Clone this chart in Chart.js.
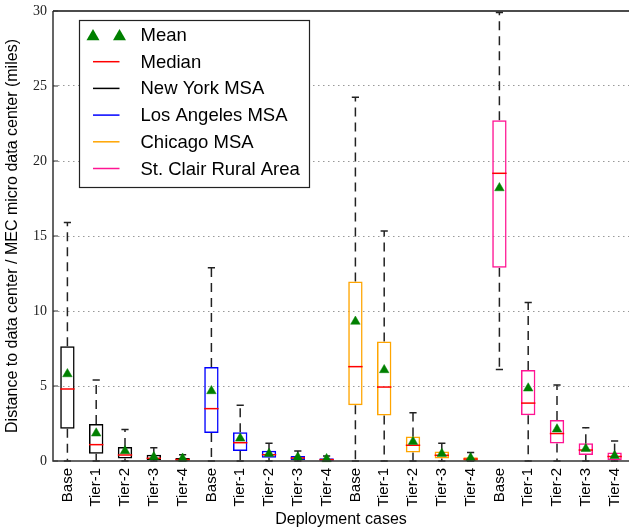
<!DOCTYPE html>
<html><head><meta charset="utf-8">
<script src="https://cdn.jsdelivr.net/npm/chart.js@4.4.1/dist/chart.umd.min.js"></script>
<style>
html,body{margin:0;padding:0;background:#fff;overflow:hidden;width:633px;height:531px}
#wrap{position:relative;width:635px;height:531px}
</style></head>
<body><div id="wrap"><canvas id="c" width="635" height="531"></canvas></div>
<script>
// ---- data ----
const categories = ['Base','Tier-1','Tier-2','Tier-3','Tier-4',
                    'Base','Tier-1','Tier-2','Tier-3','Tier-4',
                    'Base','Tier-1','Tier-2','Tier-3','Tier-4',
                    'Base','Tier-1','Tier-2','Tier-3','Tier-4'];
const groups = ['New York MSA','Los Angeles MSA','Chicago MSA','St. Clair Rural Area'];
const whiskerLow  = [0,0,0,0,0,  0,0,0,0,0,  0,0,0,0,0,  6.1,0,0,0,0];
const q1          = [2.15,0.49,0.16,0.07,0.02,  1.87,0.67,0.22,0.07,0.02,  3.72,3.03,0.56,0.16,0.02,  12.89,3.05,1.16,0.40,0.05];
const median      = [4.80,1.09,0.40,0.18,0.10,  3.49,1.22,0.42,0.20,0.09,  6.29,4.93,1.05,0.38,0.13,  19.18,3.86,1.83,0.73,0.30];
const q3          = [7.65,2.47,0.93,0.42,0.20,  6.27,1.92,0.69,0.33,0.18,  11.96,7.96,1.63,0.63,0.25,  22.71,6.07,2.73,1.18,0.56];
const whiskerHigh = [15.9,5.4,2.1,0.89,0.42,  12.88,3.72,1.18,0.67,0.33,  24.25,15.33,3.22,1.18,0.56,  29.9,10.56,5.06,2.22,1.33];
const mean        = [5.8,1.85,0.67,0.27,0.17,  4.67,1.51,0.49,0.25,0.14,  9.3,6.07,1.29,0.49,0.2,  18.2,4.85,2.12,0.82,0.35];
const yTicks = [0,5,10,15,20,25,30];

// ---- styles ----
const groupColors = ['#000000','#0000ff','#ffa500','#ff1493'];
const boxColors = categories.map((c,i)=>groupColors[Math.floor(i/5)]);
const MEAN_COLOR = '#008000', MEDIAN_COLOR = '#ff0000', WHISKER_COLOR = '#222222';
const SANS = '"Liberation Sans", Arial, Helvetica, sans-serif';

function drawTriangle(ctx, x, y, r){
  const half = Math.sqrt(3)*r/2;
  ctx.beginPath();
  ctx.moveTo(x, y - r);
  ctx.lineTo(x + half, y + r/2);
  ctx.lineTo(x - half, y + r/2);
  ctx.closePath();
  ctx.fill();
}

const boxPlugin = {
  id: 'boxExtras',
  beforeDatasetsDraw(chart){
    const {ctx, scales:{x,y}} = chart;
    const meta = chart.getDatasetMeta(0);
    ctx.save();
    ctx.strokeStyle = WHISKER_COLOR;
    ctx.lineWidth = 1.5;
    categories.forEach((c,i)=>{
      const cx = x.getPixelForValue(i);
      const bw = meta.data[i].width;
      ctx.setLineDash([9,6]);
      ctx.beginPath();
      ctx.moveTo(cx, y.getPixelForValue(q3[i])); ctx.lineTo(cx, y.getPixelForValue(whiskerHigh[i]));
      ctx.stroke();
      ctx.beginPath();
      ctx.moveTo(cx, y.getPixelForValue(q1[i])); ctx.lineTo(cx, y.getPixelForValue(whiskerLow[i]));
      ctx.stroke();
      ctx.setLineDash([]);
      ctx.beginPath();
      ctx.moveTo(cx-bw/4, y.getPixelForValue(whiskerHigh[i])); ctx.lineTo(cx+bw/4, y.getPixelForValue(whiskerHigh[i]));
      ctx.moveTo(cx-bw/4, y.getPixelForValue(whiskerLow[i])); ctx.lineTo(cx+bw/4, y.getPixelForValue(whiskerLow[i]));
      ctx.stroke();
    });
    ctx.restore();
  },
  afterDatasetDraw(chart, args){
    if (args.index !== 0) return;
    const {ctx, scales:{x,y}} = chart;
    const meta = chart.getDatasetMeta(0);
    ctx.save();
    ctx.strokeStyle = MEDIAN_COLOR;
    ctx.lineWidth = 1.5;
    categories.forEach((c,i)=>{
      const cx = x.getPixelForValue(i);
      const bw = meta.data[i].width;
      const py = y.getPixelForValue(median[i]);
      ctx.beginPath(); ctx.moveTo(cx-bw/2, py); ctx.lineTo(cx+bw/2, py); ctx.stroke();
    });
    ctx.restore();
  },
  afterDraw(chart){
    const {ctx, chartArea:ca, scales:{y}} = chart;
    ctx.save();
    // spines
    ctx.strokeStyle = '#333';
    ctx.lineWidth = 1.5;
    ctx.beginPath();
    ctx.moveTo(ca.left, ca.top); ctx.lineTo(ca.left, ca.bottom); ctx.lineTo(ca.right, ca.bottom);
    ctx.stroke();
    ctx.strokeStyle = '#111';
    ctx.beginPath();
    ctx.moveTo(ca.left, ca.top); ctx.lineTo(ca.right, ca.top);
    ctx.stroke();
    // inside ticks
    ctx.strokeStyle = '#333';
    ctx.lineWidth = 1;
    yTicks.forEach(v=>{
      const py = y.getPixelForValue(v);
      ctx.beginPath(); ctx.moveTo(ca.left, py); ctx.lineTo(ca.left+5, py); ctx.stroke();
    });
    // legend
    const lx = ca.left + 26.5, ly = ca.top + 9.5, lw = 230, lh = 167;
    ctx.fillStyle = '#fff';
    ctx.fillRect(lx, ly, lw, lh);
    ctx.strokeStyle = '#222';
    ctx.lineWidth = 1.2;
    ctx.strokeRect(lx, ly, lw, lh);
    const rowY = i => ly + 14.5 + i*26.7;
    const m1 = lx + 13.5, m2 = lx + 40, tx = lx + 61;
    ctx.fillStyle = MEAN_COLOR;
    drawTriangle(ctx, m1, rowY(0)+1.5, 7.5);
    drawTriangle(ctx, m2, rowY(0)+1.5, 7.5);
    const lineEntries = [['Median', MEDIAN_COLOR]].concat(groups.map((g,i)=>[g, groupColors[i]]));
    ctx.lineWidth = 1.5;
    lineEntries.forEach((e,k)=>{
      const py = rowY(k+1);
      ctx.strokeStyle = e[1];
      ctx.beginPath(); ctx.moveTo(m1, py); ctx.lineTo(m2, py); ctx.stroke();
    });
    ctx.fillStyle = '#000';
    ctx.font = '18.5px ' + SANS;
    ctx.textBaseline = 'middle';
    ctx.textAlign = 'left';
    ctx.fillText('Mean', tx, rowY(0)+1);
    lineEntries.forEach((e,k)=>ctx.fillText(e[0], tx, rowY(k+1)+1));
    ctx.restore();
  }
};

new Chart(document.getElementById('c'), {
  type: 'bar',
  data: {
    labels: categories,
    datasets: [
      {
        type: 'bar',
        label: 'Boxes',
        data: q1.map((v,i)=>[v, q3[i]]),
        backgroundColor: 'rgba(0,0,0,0)',
        borderColor: boxColors,
        borderWidth: 1.5,
        borderSkipped: false,
        barPercentage: 0.5,
        categoryPercentage: 1.0,
        order: 2
      },
      {
        type: 'line',
        label: 'Mean',
        data: mean,
        showLine: false,
        pointStyle: 'triangle',
        pointRadius: 5.5,
        pointHoverRadius: 5.5,
        backgroundColor: MEAN_COLOR,
        borderColor: MEAN_COLOR,
        pointBorderWidth: 0.5,
        clip: false,
        order: 0
      }
    ]
  },
  options: {
    responsive: false,
    animation: false,
    devicePixelRatio: 1,
    layout: { padding: { top: 11, left: 0, right: 0, bottom: 0 } },
    plugins: { legend: { display: false }, tooltip: { enabled: false } },
    scales: {
      x: {
        type: 'category',
        offset: true,
        grid: { display: false, drawTicks: false },
        border: { display: false },
        ticks: { maxRotation: 90, minRotation: 90, autoSkip: false, color: '#000', padding: 7,
                 font: { family: SANS, size: 15 } },
        title: { display: true, text: 'Deployment cases', color: '#000',
                 font: { family: SANS, size: 16 }, padding: { top: 0, bottom: 2 } },
        afterFit(s){ s.height = 70; s.paddingLeft = 0; s.paddingRight = 0; }
      },
      y: {
        min: 0, max: 30,
        afterBuildTicks(s){ s.ticks = yTicks.map(v=>({value:v})); },
        grid: { drawTicks: false, lineWidth: 1,
                color: ctx => (ctx.tick && (ctx.tick.value === 0 || ctx.tick.value === 30)) ? 'rgba(0,0,0,0)' : '#999' },
        border: { display: false, dash: [1.5, 3.5] },
        ticks: { color: '#222', padding: 6, font: { family: '"Liberation Serif", "Times New Roman", serif', size: 14 } },
        title: { display: true, text: 'Distance to data center / MEC micro data center (miles)', color: '#000',
                 font: { family: SANS, size: 16 }, padding: { top: 3, bottom: 0 } },
        afterFit(s){ s.width = 53; s.paddingTop = 0; s.paddingBottom = 0; }
      }
    }
  },
  plugins: [boxPlugin]
});
</script>
</body></html>
